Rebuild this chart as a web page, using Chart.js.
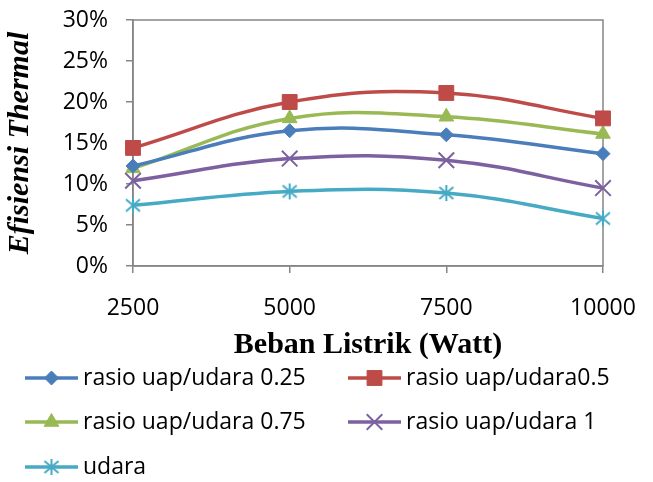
<!DOCTYPE html>
<html>
<head>
<meta charset="utf-8">
<script src="https://cdn.jsdelivr.net/npm/chart.js@4"></script>
<style>
  html, body { margin: 0; padding: 0; background: #fff; }
  #wrap { width: 653px; height: 482px; }
</style>
</head>
<body>
<div id="wrap"><canvas id="efChart" width="653" height="482"></canvas></div>
<script>
// --- data ---
const bebanLabels = ['2500', '5000', '7500', '10000'];
const rasio025 = [12.2, 16.5, 16.0, 13.7];
const rasio05  = [14.4, 20.0, 21.1, 18.0];
const rasio075 = [11.9, 18.0, 18.2, 16.1];
const rasio1   = [10.4, 13.1, 12.9,  9.5];
const udara    = [ 7.4,  9.1,  8.9,  5.8];

const sansFont = "'Open Sans', 'Liberation Sans', sans-serif";
const serifFont = "'Liberation Serif', 'Times New Roman', serif";
const axisGray = '#868686';

// Excel-style asterisk marker (X + vertical bar)
function asterisco(color) {
    const c = document.createElement('canvas');
    c.width = 18; c.height = 18;
    const g = c.getContext('2d');
    g.strokeStyle = color;
    g.lineWidth = 2;
    g.beginPath();
    g.moveTo(2, 3); g.lineTo(16, 15);
    g.moveTo(16, 3); g.lineTo(2, 15);
    g.moveTo(9, 1); g.lineTo(9, 17);
    g.stroke();
    return c;
}

function serie(label, data, color, style, radius) {
    return {
        label: label,
        data: data,
        borderColor: color,
        backgroundColor: color,
        pointBackgroundColor: color,
        pointBorderColor: color,
        pointStyle: style,
        pointRadius: radius,
        pointBorderWidth: (style === 'crossRot') ? 2 : 1,
        borderWidth: 3.5,
        tension: 0.4,
        fill: false
    };
}

// legend drawn on canvas in two columns, like the original
const legendPlugin = {
    id: 'legendGrid',
    afterDraw(chart) {
        const ctx = chart.ctx;
        const cols = [25, 348];
        const rows = [378, 422, 467];
        ctx.save();
        chart.data.datasets.forEach((ds, i) => {
            const x = cols[i % 2];
            const y = rows[Math.floor(i / 2)];
            ctx.strokeStyle = ds.borderColor;
            ctx.lineWidth = ds.borderWidth;
            ctx.beginPath();
            ctx.moveTo(x, y);
            ctx.lineTo(x + 53, y);
            ctx.stroke();
            ctx.fillStyle = ds.pointBackgroundColor;
            ctx.lineWidth = ds.pointBorderWidth;
            Chart.helpers.drawPoint(ctx, {
                pointStyle: ds.pointStyle,
                radius: ds.pointRadius,
                rotation: 0,
                borderWidth: ds.pointBorderWidth
            }, x + 26.5, y);
            ctx.fillStyle = '#000';
            ctx.font = '23px ' + sansFont;
            ctx.textBaseline = 'middle';
            ctx.textAlign = 'left';
            ctx.fillText(ds.label, x + 58, y);
        });
        ctx.restore();
    }
};

// plot area frame (top + right border)
const framePlugin = {
    id: 'frame',
    beforeDatasetsDraw(chart) {
        const a = chart.chartArea;
        const ctx = chart.ctx;
        ctx.save();
        ctx.strokeStyle = axisGray;
        ctx.lineWidth = 1.5;
        ctx.strokeRect(a.left, a.top, a.right - a.left, a.bottom - a.top);
        ctx.restore();
    }
};

const ctx = document.getElementById('efChart').getContext('2d');
const chartEf = new Chart(ctx, {
    type: 'line',
    data: {
        labels: bebanLabels,
        datasets: [
            serie('rasio uap/udara 0.25', rasio025, '#4a7ebb', 'rectRot', 7),
            serie('rasio uap/udara0.5', rasio05, '#be4b48', 'rect', 10.5),
            serie('rasio uap/udara 0.75', rasio075, '#98b954', 'triangle', 8.5),
            serie('rasio uap/udara 1', rasio1, '#7d60a0', 'crossRot', 11),
            serie('udara', udara, '#46aac5', asterisco('#46aac5'), 8)
        ]
    },
    options: {
        responsive: false,
        animation: false,
        layout: { padding: { top: 20, right: 50, bottom: 116, left: 0 } },
        scales: {
            x: {
                offset: false,
                afterFit: (s) => { s.height = 100; s.paddingLeft = 0; s.paddingRight = 40; },
                grid: { drawOnChartArea: false, color: axisGray, tickLength: 7, lineWidth: 1.5 },
                border: { color: axisGray, width: 1.5 },
                ticks: { color: '#000', font: { family: sansFont, size: 23 }, padding: 22, maxRotation: 0 },
                title: {
                    display: true,
                    text: 'Beban Listrik (Watt)',
                    color: '#000',
                    font: { family: serifFont, size: 30, weight: 'bold' },
                    padding: { top: 0, bottom: 3 }
                }
            },
            y: {
                min: 0,
                max: 30,
                afterFit: (s) => { s.width = 133; s.paddingTop = 0; s.paddingBottom = 0; },
                grid: { drawOnChartArea: false, color: axisGray, tickLength: 7, lineWidth: 1.5 },
                border: { color: axisGray, width: 1.5 },
                ticks: {
                    stepSize: 5,
                    color: '#000',
                    font: { family: sansFont, size: 23 },
                    padding: 18,
                    callback: (v) => v + '%'
                },
                title: {
                    display: true,
                    text: 'Efisiensi Thermal',
                    color: '#000',
                    font: { family: serifFont, size: 30, weight: 'bold', style: 'italic' },
                    padding: { top: 2, bottom: 0 }
                }
            }
        },
        plugins: {
            legend: { display: false },
            tooltip: { enabled: false }
        }
    },
    plugins: [framePlugin, legendPlugin]
});
</script>
</body>
</html>
